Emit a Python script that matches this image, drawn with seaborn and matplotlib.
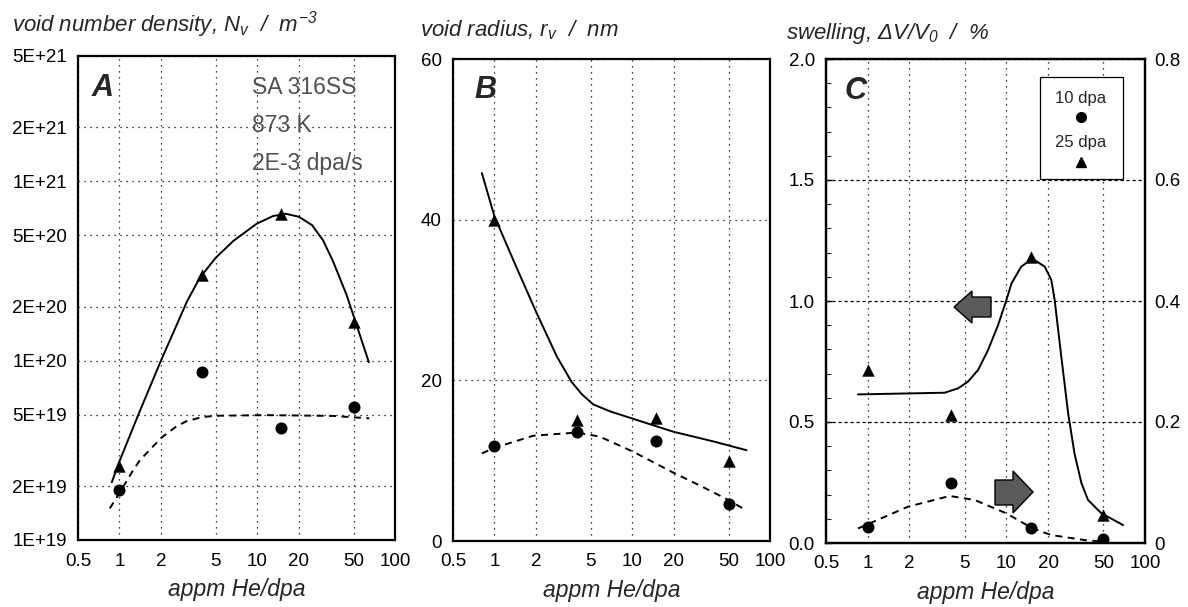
import matplotlib
matplotlib.use('Agg')
import matplotlib.pyplot as plt
import seaborn as sns
from matplotlib.ticker import FixedLocator, NullLocator, FixedFormatter, LogLocator
from matplotlib.patches import Polygon, Rectangle
from matplotlib.lines import Line2D

# ---------------- data ----------------
x_points = [1, 4, 15, 50]
x_ticks = [0.5, 1, 2, 5, 10, 20, 50, 100]
x_tick_labels = ['0.5', '1', '2', '5', '10', '20', '50', '100']

# Panel A : void number density (m^-3)
A_tri = [2.6e19, 3.0e20, 6.6e20, 1.65e20]      # 25 dpa
A_circ = [1.9e19, 8.6e19, 4.2e19, 5.5e19]      # 10 dpa
A_solid_x = [0.88, 1.0, 1.4, 2.0, 3.1, 3.83, 5.0, 6.7, 9.9, 13, 16, 20, 25, 30, 35.4, 44.3, 50, 64.6]
A_solid_y = [2.1e19, 2.75e19, 5.2e19, 1.0e20, 2.15e20, 2.9e20, 3.75e20, 4.65e20, 5.8e20, 6.4e20,
             6.6e20, 6.35e20, 5.7e20, 4.7e20, 3.6e20, 2.35e20, 1.78e20, 9.8e19]
A_dash_x = [0.85, 0.98, 1.26, 1.41, 2.0, 2.59, 3.07, 4.0, 5.05, 11.6, 35.4, 65]
A_dash_y = [1.5e19, 1.78e19, 2.46e19, 2.79e19, 3.7e19, 4.3e19, 4.6e19, 4.85e19, 4.93e19, 4.97e19,
            4.92e19, 4.77e19]
A_yticks = [1e19, 2e19, 5e19, 1e20, 2e20, 5e20, 1e21, 2e21, 5e21]
A_ytick_labels = ['1E+19', '2E+19', '5E+19', '1E+20', '2E+20', '5E+20', '1E+21', '2E+21', '5E+21']

# Panel B : void radius (nm)
B_tri = [40.0, 15.1, 15.3, 10.0]
B_circ = [11.8, 13.6, 12.4, 4.6]
B_solid_x = [0.81, 1.0, 1.45, 2.02, 2.83, 3.63, 4.29, 5.21, 7.0, 10.2, 19.9, 38.7, 67.6]
B_solid_y = [45.8, 40.4, 34.0, 28.4, 23.0, 19.8, 18.3, 17.0, 16.1, 15.2, 13.6, 12.4, 11.3]
B_dash_x = [0.81, 1.0, 1.91, 3.95, 5.8, 10.2, 19.9, 31, 50, 65.8]
B_dash_y = [10.9, 11.6, 13.1, 13.5, 13.0, 11.1, 8.5, 6.9, 5.1, 3.9]
B_yticks = [0, 20, 40, 60]

# Panel C : swelling (%), 25 dpa on left axis, 10 dpa on right axis
C_tri = [0.715, 0.529, 1.183, 0.116]
C_circ = [0.027, 0.099, 0.024, 0.006]
C_solid_x = [0.85, 3.59, 4.48, 5.29, 6.25, 7.37, 8.71, 10.0, 10.9, 12.8, 15.4, 18.9, 21.1,
             22.3, 24.9, 27.9, 31.0, 34.8, 38.8, 48.4, 69.5]
C_solid_y = [0.614, 0.621, 0.639, 0.667, 0.715, 0.797, 0.900, 1.004, 1.073, 1.142, 1.175, 1.142,
             1.087, 1.004, 0.770, 0.536, 0.37, 0.247, 0.178, 0.123, 0.074]
C_dash_x = [0.85, 1.95, 3.9, 5.92, 10.0, 15.5, 21.0, 38.8, 48.0]
C_dash_y = [0.024, 0.060, 0.0777, 0.071, 0.049, 0.024, 0.0132, 0.004, 0.003]
C_yticks = [0.0, 0.5, 1.0, 1.5, 2.0]
C_ytick_labels = ['0.0', '0.5', '1.0', '1.5', '2.0']
C_y2ticks = [0.0, 0.2, 0.4, 0.6, 0.8]
C_y2tick_labels = ['0', '0.2', '0.4', '0.6', '0.8']

legend_labels = ['10 dpa', '25 dpa']
conditions = ['SA 316SS', '873 K', '2E-3 dpa/s']

# ---------------- style ----------------
sns.set_style('white')
plt.rcParams['font.family'] = ['Liberation Sans', 'DejaVu Sans']
plt.rcParams['mathtext.fontset'] = 'custom'
plt.rcParams['mathtext.it'] = 'Liberation Sans:italic'
plt.rcParams['mathtext.rm'] = 'Liberation Sans:italic'
plt.rcParams['mathtext.sf'] = 'Liberation Sans:italic'

W, H = 1188, 607
fig = plt.figure(figsize=(W / 100, H / 100), dpi=100)


def fx(px):
    return px / W


def fy(py):
    return 1 - py / H


def make_ax(l, t, r, b):
    return fig.add_axes([fx(l), fy(b), fx(r) - fx(l), fy(t) - fy(b)])


axA = make_ax(78, 56, 395, 540)
axB = make_ax(453, 59, 770, 541)
axC = make_ax(826, 59, 1145, 543)

TICK_FS = 13.5
dot = (0, (1.0, 3.8))
dash_grid = (0, (2.6, 2.2))
curve_dash = (0, (3.6, 2.8))


def style_axis(ax, ygrid_style=dot):
    ax.set_xscale('log')
    ax.set_xlim(0.5, 100)
    ax.xaxis.set_major_locator(FixedLocator(x_ticks))
    ax.xaxis.set_major_formatter(FixedFormatter(x_tick_labels))
    ax.xaxis.set_minor_locator(NullLocator())
    ax.tick_params(axis='x', which='major', direction='in', length=9, width=1,
                   labelsize=TICK_FS, pad=9, colors='black')
    ax.tick_params(axis='y', which='major', direction='in', length=4, width=1,
                   labelsize=TICK_FS, pad=8, colors='black')
    ax.tick_params(axis='y', which='minor', direction='in', length=3.5, width=0.8)
    for s in ax.spines.values():
        s.set_linewidth(1.6)
        s.set_color('black')
    ax.xaxis.grid(True, which='major', color='black', linestyle=dot, linewidth=0.9)
    ax.yaxis.grid(True, which='major', color='black', linestyle=ygrid_style, linewidth=0.9)
    ax.set_xlabel('appm He/dpa', fontsize=16.5, style='italic', labelpad=6)
    ax.set_ylabel('')


def draw_series(ax, xs, ys, style):
    sns.lineplot(x=xs, y=ys, ax=ax, color='black', linewidth=1.4, linestyle=style,
                 estimator=None, sort=False, legend=False)


def draw_points(ax, ys, marker, size):
    sns.scatterplot(x=x_points, y=ys, ax=ax, marker=marker, s=size, color='black',
                    edgecolor='black', linewidth=0, legend=False, zorder=5)


# ---- Panel A ----
draw_series(axA, A_solid_x, A_solid_y, '-')
draw_series(axA, A_dash_x, A_dash_y, curve_dash)
draw_points(axA, A_tri, '^', 80)
draw_points(axA, A_circ, 'o', 75)
axA.set_yscale('log')
axA.set_ylim(1e19, 5e21)
axA.yaxis.set_major_locator(FixedLocator(A_yticks))
axA.yaxis.set_major_formatter(FixedFormatter(A_ytick_labels))
axA.yaxis.set_minor_locator(LogLocator(base=10, subs=(3, 4, 6, 7, 8, 9)))
axA.yaxis.set_minor_formatter(FixedFormatter([]))
style_axis(axA)

# ---- Panel B ----
draw_series(axB, B_solid_x, B_solid_y, '-')
draw_series(axB, B_dash_x, B_dash_y, curve_dash)
draw_points(axB, B_tri, '^', 80)
draw_points(axB, B_circ, 'o', 75)
axB.set_ylim(0, 60)
axB.yaxis.set_major_locator(FixedLocator(B_yticks))
axB.yaxis.set_minor_locator(FixedLocator([10, 30, 50]))
style_axis(axB)

# ---- Panel C ----
draw_series(axC, C_solid_x, C_solid_y, '-')
draw_points(axC, C_tri, '^', 80)
axC.set_ylim(0, 2.0)
axC.yaxis.set_major_locator(FixedLocator(C_yticks))
axC.yaxis.set_major_formatter(FixedFormatter(C_ytick_labels))
axC.yaxis.set_minor_locator(FixedLocator([v / 10 for v in range(1, 20) if v % 5]))
style_axis(axC, ygrid_style=dash_grid)

axC2 = axC.twinx()
draw_series(axC2, C_dash_x, C_dash_y, curve_dash)
draw_points(axC2, C_circ, 'o', 75)
axC2.set_ylim(0, 0.8)
axC2.yaxis.set_major_locator(FixedLocator(C_y2ticks))
axC2.yaxis.set_major_formatter(FixedFormatter(C_y2tick_labels))
axC2.tick_params(axis='y', direction='in', length=0, labelsize=TICK_FS, pad=7, colors='black')
axC2.set_ylabel('')
axC2.set_xlim(0.5, 100)
for s in axC2.spines.values():
    s.set_linewidth(1.6)
    s.set_color('black')

# ---------------- titles ----------------
TITLE_FS = 16
fig.text(fx(12), fy(32), r'void number density, $N_v$  /  $m^{-3}$', style='italic',
         fontsize=TITLE_FS, va='baseline', ha='left')
fig.text(fx(420), fy(36), r'void radius, $r_v$  /  nm', style='italic',
         fontsize=TITLE_FS, va='baseline', ha='left')
fig.text(fx(786), fy(39), r'swelling, ΔV/$V_0$  /  %', style='italic',
         fontsize=TITLE_FS, va='baseline', ha='left')

# panel letters
for (px_, py_), letter in zip([(103, 88), (485, 90), (856, 91)], ['A', 'B', 'C']):
    fig.text(fx(px_), fy(py_), letter, fontsize=22, fontweight='bold', style='italic',
             ha='center', va='center')

# conditions text in panel A
for py_, txt in zip([88, 125, 163], conditions):
    fig.text(fx(252), fy(py_), txt, fontsize=16.5, color='#505050', ha='left', va='center')

# ---------------- legend in C ----------------
fig.add_artist(Rectangle((fx(1040), fy(179)), fx(1122.5) - fx(1040), fy(77) - fy(179),
                         transform=fig.transFigure, facecolor='white', edgecolor='black',
                         linewidth=0.9, zorder=3))
fig.text(fx(1080.5), fy(98), legend_labels[0], fontsize=12, ha='center', va='center', zorder=4)
fig.text(fx(1080.5), fy(143), legend_labels[1], fontsize=12, ha='center', va='center', zorder=4)
fig.add_artist(Line2D([fx(1080.7)], [fy(117)], marker='o', markersize=7, color='black',
                      linestyle='none', transform=fig.transFigure, zorder=4))
fig.add_artist(Line2D([fx(1081.3)], [fy(162)], marker='^', markersize=7.5, color='black',
                      linestyle='none', transform=fig.transFigure, zorder=4))

# ---------------- arrows in C ----------------
left_arrow = [(954, 307), (972, 291), (972, 297), (991, 297), (991, 317), (972, 317), (972, 323)]
right_arrow = [(995, 480), (1013, 480), (1013, 471), (1033, 492), (1013, 513), (1013, 505), (995, 505)]
for poly in (left_arrow, right_arrow):
    fig.add_artist(Polygon([(fx(a), fy(b)) for a, b in poly], closed=True,
                           transform=fig.transFigure, facecolor='#5a5a5a',
                           edgecolor='black', linewidth=1.0, zorder=4))

fig.savefig('out.png', dpi=100)
